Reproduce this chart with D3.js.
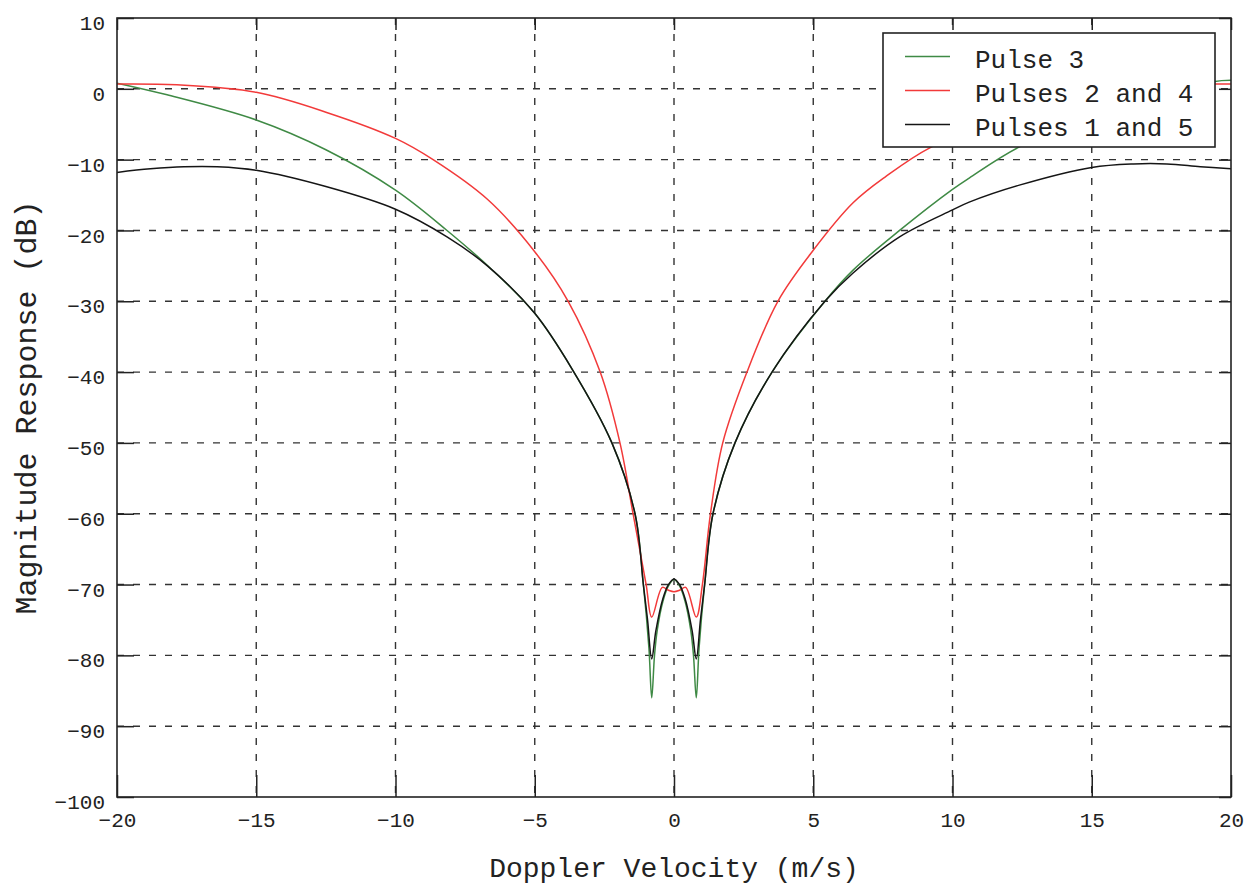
<!DOCTYPE html>
<html lang="en">
<head>
<title>Magnitude response vs Doppler velocity</title>
<meta charset="utf-8">

<script src="https://d3js.org/d3.v7.min.js"></script>

<style type="text/css">

  body {
    margin: 0;
    background: #fff;
  }

  svg text {
    font-family: 'Liberation Mono', 'Courier New', monospace;
    fill: #222;
  }

  .grid line {
    stroke: #333;
    stroke-width: 1.4;
    stroke-dasharray: 7,9;
  }

  .curve {
    fill: none;
    stroke-width: 1.5;
  }

</style>

</head>

<body>

<div id="chart"></div>

<script>

/* Data (velocity in m/s, response in dB) */
/* ========================================================== */

// Pulse 3
var pulse3V = [
  -20, -18.2, -15, -12.5, -10, -8.15, -6.6, -5, -3.67, -2.23, -1.4, -1.1, -0.9, -0.8,
  -0.7, -0.6, -0.4, -0.2, 0, 0.2, 0.4, 0.6, 0.7,
  0.8, 0.9, 1.1, 1.4, 2.19, 3.52, 5.42, 6.43, 8.1, 10, 10.6, 12.4, 16, 19.35, 20
];
var pulse3Db = [
  0.8, -0.85, -4.4, -8.6, -14.3, -20.0, -25.3, -31.7, -39.5, -50.0, -60.0, -70.0, -79.0, -86.0,
  -80.0, -76.4, -72.4, -70.2, -69.3, -70.2, -72.4, -76.4, -80.0,
  -86.0, -79.0, -70.0, -60.0, -50.0, -40.0, -30.0, -25.6, -20.0, -14.2, -12.6, -8.2, -2.4, 1.0, 1.2
];

// Pulses 2 and 4
var pulses24V = [
  -20, -17.85, -15, -12.5, -10, -8.65, -6.7, -5, -3.8, -2.65, -1.94, -1.47, -1.0, -0.8,
  -0.42, -0.2, 0, 0.2, 0.42,
  0.8, 1.02, 1.31, 1.75, 2.62, 3.73, 5, 6.43, 7.6, 9.2, 12, 15, 17.85, 20
];
var pulses24Db = [
  0.68, 0.56, -0.5, -3.3, -7.0, -10.0, -15.6, -23.0, -30.0, -40.0, -50.0, -60.0, -70.0, -74.6,
  -70.4, -70.8, -71.0, -70.8, -70.4,
  -74.6, -70.0, -60.0, -50.0, -40.0, -30.0, -22.8, -16.1, -12.4, -8.3, -3.9, -0.6, 0.56, 0.68
];

// Pulses 1 and 5
var pulses15V = [
  -20, -18.8, -17.6, -16.4, -15, -12.5, -10, -8.15, -6.7, -5, -3.67, -2.23, -1.4, -1.1, -0.95, -0.8,
  -0.65, -0.4, -0.2, 0, 0.2, 0.4, 0.65,
  0.8, 0.95, 1.1, 1.4, 2.19, 3.52, 5.42, 6.43, 8.1, 10, 10.6, 12.4, 15, 16.5, 17.7, 18.9, 20
];
var pulses15Db = [
  -11.8, -11.3, -11.0, -11.0, -11.5, -13.8, -17.0, -20.9, -25.0, -31.7, -39.5, -50.0, -60.0, -70.0, -75.0, -80.5,
  -76.5, -72.0, -70.0, -69.2, -70.0, -72.0, -76.5,
  -80.5, -75.0, -70.0, -60.0, -50.0, -40.0, -30.0, -26.0, -20.9, -17.1, -16.0, -13.6, -11.1, -10.6, -10.6, -11.0, -11.3
];

var seriesNames = ['Pulse 3', 'Pulses 2 and 4', 'Pulses 1 and 5'];
var seriesColors = ['#3f8a45', '#f23a3a', '#151515'];

var xTicks = [-20, -15, -10, -5, 0, 5, 10, 15, 20];
var yTicks = [-100, -90, -80, -70, -60, -50, -40, -30, -20, -10, 0, 10];


/* Set up dimensions */
/* ================= */

var width = 1246,
    height = 886,
    margin = { top: 18, right: 15, bottom: 89, left: 117 },
    plotW = width - margin.left - margin.right,
    plotH = height - margin.top - margin.bottom;

var svg = d3.select('#chart').append('svg')
  .attr('width', width)
  .attr('height', height);

var g = svg.append('g')
  .attr('transform', 'translate(' + margin.left + ',' + margin.top + ')');


/* Scales */
/* ====== */

var x = d3.scaleLinear().domain([-20, 20]).range([0, plotW]);
var y = d3.scaleLinear().domain([-100, 10]).range([plotH, 0]);


/* Grid */
/* ==== */

var grid = g.append('g').attr('class', 'grid');

grid.selectAll('line.vgrid')
  .data(xTicks.slice(1, -1))
  .enter().append('line')
  .attr('x1', function(d) { return x(d); })
  .attr('x2', function(d) { return x(d); })
  .attr('y1', 0)
  .attr('y2', plotH);

grid.selectAll('line.hgrid')
  .data(yTicks.slice(1, -1))
  .enter().append('line')
  .attr('x1', 0)
  .attr('x2', plotW)
  .attr('y1', function(d) { return y(d); })
  .attr('y2', function(d) { return y(d); });


/* Curves */
/* ====== */

g.append('clipPath').attr('id', 'clip')
  .append('rect').attr('width', plotW).attr('height', plotH);

var line = d3.line()
  .x(function(d) { return x(d[0]); })
  .y(function(d) { return y(d[1]); })
  .curve(d3.curveCatmullRom.alpha(0.5));

var series = [
  d3.zip(pulse3V, pulse3Db),
  d3.zip(pulses24V, pulses24Db),
  d3.zip(pulses15V, pulses15Db)
];

series.forEach(function(points, i) {

  g.append('path')
    .datum(points)
    .attr('class', 'curve')
    .attr('clip-path', 'url(#clip)')
    .attr('stroke', seriesColors[i])
    .attr('d', line);

});


/* Axes and box */
/* ============ */

function styleAxis(sel) {
  sel.select('.domain').remove();
  sel.selectAll('.tick line').attr('stroke', '#222').attr('stroke-width', 1.5);
  sel.selectAll('.tick text')
    .style('font-size', '21px')
    .style('font-family', "'Liberation Mono', monospace")
    .attr('fill', '#3a3a3a');
}

g.append('g')
  .attr('transform', 'translate(0,' + plotH + ')')
  .call(d3.axisBottom(x).tickValues(xTicks).tickSizeInner(-22).tickPadding(15).tickFormat(d3.format('d')))
  .call(styleAxis);

g.append('g')
  .call(d3.axisLeft(y).tickValues(yTicks).tickSizeInner(-17).tickPadding(12).tickFormat(d3.format('d')))
  .call(styleAxis)
  .selectAll('.tick text').attr('dy', '0.55em');

g.append('g')
  .call(d3.axisTop(x).tickValues(xTicks).tickSizeInner(-12).tickFormat(''))
  .call(styleAxis);

g.append('g')
  .attr('transform', 'translate(' + plotW + ',0)')
  .call(d3.axisRight(y).tickValues(yTicks).tickSizeInner(-12).tickFormat(''))
  .call(styleAxis);

g.append('rect')
  .attr('width', plotW)
  .attr('height', plotH)
  .attr('fill', 'none')
  .attr('stroke', '#222')
  .attr('stroke-width', 1.6);


/* Axis labels */
/* =========== */

svg.append('text')
  .attr('x', margin.left + plotW / 2)
  .attr('y', 877)
  .attr('text-anchor', 'middle')
  .style('font-size', '28px')
  .text('Doppler Velocity (m/s)');

svg.append('text')
  .attr('transform', 'translate(36,' + (margin.top + plotH / 2) + ') rotate(-90)')
  .attr('text-anchor', 'middle')
  .style('font-size', '30px')
  .text('Magnitude Response (dB)');


/* Legend */
/* ====== */

var legend = svg.append('g').attr('transform', 'translate(883,33)');

legend.append('rect')
  .attr('width', 332)
  .attr('height', 114)
  .attr('fill', '#fff')
  .attr('stroke', '#222')
  .attr('stroke-width', 1.6);

seriesNames.forEach(function(name, i) {

  var rowY = 23.5 + i * 34;

  legend.append('line')
    .attr('x1', 22).attr('x2', 67)
    .attr('y1', rowY).attr('y2', rowY)
    .attr('stroke', seriesColors[i])
    .attr('stroke-width', 1.6);

  legend.append('text')
    .attr('x', 92)
    .attr('y', rowY + 11.5)
    .style('font-size', '26px')
    .text(name);

});

</script>

</body>
</html>
